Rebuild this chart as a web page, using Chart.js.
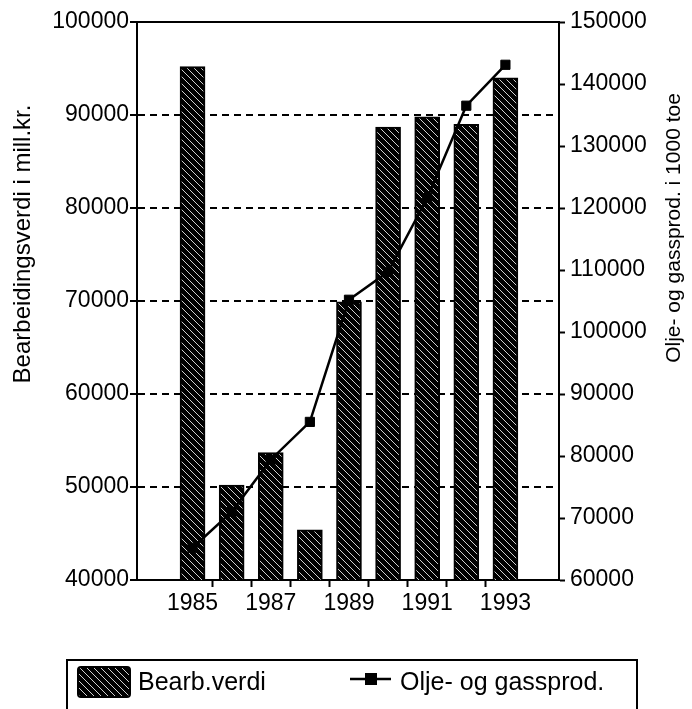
<!DOCTYPE html>
<html>
<head>
<meta charset="utf-8">
<script src="https://cdn.jsdelivr.net/npm/chart.js@4.4.1/dist/chart.umd.min.js"></script>
<style>
  html, body { margin: 0; padding: 0; background: #fff; }
  #wrap { width: 692px; height: 709px; position: relative; }
</style>
</head>
<body>
<div id="wrap"><canvas id="c" width="692" height="709"></canvas></div>
<script>
// ---- data ----
const years = [1985, 1986, 1987, 1988, 1989, 1990, 1991, 1992, 1993];
const bearbVerdi = [95200, 50200, 53700, 45400, 69900, 88700, 89800, 89000, 94000];
const oljeGassProd = [65200, 71000, 79400, 85500, 105200, 109700, 121600, 136500, 143100];
const xTickLabels = ['1985', '1987', '1989', '1991', '1993'];
const seriesNames = ['Bearb.verdi', 'Olje- og gassprod.'];
const leftTitle = 'Bearbeidingsverdi i mill.kr.';
const rightTitle = 'Olje- og gassprod. i 1000 toe';

const FONT = '"Liberation Sans", Arial, Helvetica, sans-serif';

function makeHatch() {
  const p = document.createElement('canvas');
  const n = 7;
  p.width = n; p.height = n;
  const g = p.getContext('2d');
  g.fillStyle = '#000';
  g.fillRect(0, 0, n, n);
  g.fillStyle = '#cfcfcf';
  for (let i = 0; i < n; i++) g.fillRect(i, i, 1, 1);
  return g.createPattern(p, 'repeat');
}
const ctx = document.getElementById('c').getContext('2d');
const hatch = makeHatch();

const barData = years.map((y, i) => ({ x: y, y: bearbVerdi[i] }));
const lineData = years.map((y, i) => ({ x: y, y: oljeGassProd[i] }));

// half-year positions for x tick marks, odd years for labels
const tickMarkVals = years.slice(0, -1).map(y => y + 0.5);
const labelVals = xTickLabels.map(Number);

const decor = {
  id: 'decor',
  afterDraw(chart) {
    const c = chart.ctx;
    const a = chart.chartArea;
    c.save();
    // top frame line
    c.strokeStyle = '#000';
    c.lineWidth = 2;
    c.beginPath();
    c.moveTo(a.left, a.top);
    c.lineTo(a.right, a.top);
    c.stroke();
    // axis titles
    c.fillStyle = '#000';
    c.textAlign = 'center';
    c.textBaseline = 'middle';
    c.save();
    c.translate(23, 244);
    c.rotate(-Math.PI / 2);
    c.font = '24px ' + FONT;
    c.fillText(leftTitle, 0, 0);
    c.restore();
    c.save();
    c.translate(674, 228);
    c.rotate(-Math.PI / 2);
    c.font = '21px ' + FONT;
    c.fillText(rightTitle, 0, 0);
    c.restore();
    // legend frame
    const lx = 67, ly = 660, lw = 570;
    c.lineWidth = 2;
    c.beginPath();
    c.moveTo(lx, chart.height + 5);
    c.lineTo(lx, ly);
    c.lineTo(lx + lw, ly);
    c.lineTo(lx + lw, chart.height + 5);
    c.stroke();
    // legend item 1
    c.fillStyle = hatch;
    c.beginPath();
    c.roundRect(78, 667, 52, 30, 3);
    c.fill();
    c.strokeStyle = '#000';
    c.lineWidth = 2;
    c.stroke();
    c.fillStyle = '#000';
    c.font = '25px ' + FONT;
    c.textAlign = 'left';
    c.textBaseline = 'alphabetic';
    c.fillText(seriesNames[0], 138, 690);
    // legend item 2
    c.lineWidth = 2.5;
    c.beginPath();
    c.moveTo(350, 679);
    c.lineTo(391, 679);
    c.stroke();
    c.fillRect(365, 673, 12, 12);
    c.fillText(seriesNames[1], 400, 690);
    c.restore();
  }
};

new Chart(ctx, {
  data: {
    datasets: [
      {
        type: 'line',
        label: seriesNames[1],
        data: lineData,
        yAxisID: 'y2',
        xAxisID: 'x',
        borderColor: '#000',
        backgroundColor: '#000',
        borderWidth: 2.5,
        pointStyle: 'rect',
        pointRadius: 6.5,
        pointBorderWidth: 1,
        pointBackgroundColor: '#000',
        pointBorderColor: '#000',
        tension: 0,
        order: 0
      },
      {
        type: 'bar',
        label: seriesNames[0],
        data: barData,
        yAxisID: 'y',
        xAxisID: 'x',
        backgroundColor: hatch,
        borderColor: '#000',
        borderWidth: 2,
        barThickness: 25,
        order: 1
      }
    ]
  },
  options: {
    responsive: false,
    animation: false,
    devicePixelRatio: 1,
    layout: { padding: { top: 22, bottom: 0, left: 0, right: 0 } },
    plugins: { legend: { display: false }, tooltip: { enabled: false } },
    scales: {
      x: {
        type: 'linear',
        position: 'bottom',
        min: 1983.58,
        max: 1994.37,
        offset: false,
        afterBuildTicks(scale) {
          scale.ticks = tickMarkVals.concat(labelVals).sort((a, b) => a - b).map(v => ({ value: v }));
        },
        afterFit(scale) { scale.height = 129; },
        grid: {
          display: true,
          drawOnChartArea: false,
          drawTicks: true,
          tickLength: 7,
          tickWidth: 2,
          offset: false,
          color: '#000',
          tickColor: (c) => (c.tick && Number.isInteger(c.tick.value)) ? 'rgba(0,0,0,0)' : '#000'
        },
        border: { display: true, color: '#000', width: 2 },
        ticks: {
          autoSkip: false,
          maxRotation: 0,
          padding: 3,
          color: '#000',
          font: { family: FONT, size: 23 },
          callback: (v) => xTickLabels.includes(String(v)) ? String(v) : ''
        }
      },
      y: {
        type: 'linear',
        position: 'left',
        min: 40000,
        max: 100000,
        afterFit(scale) { scale.width = 137; },
        ticks: {
          stepSize: 10000,
          padding: 1,
          color: '#000',
          font: { family: FONT, size: 23 },
          callback: (v) => String(v)
        },
        grid: {
          display: true,
          drawOnChartArea: true,
          drawTicks: true,
          tickLength: 7,
          lineWidth: 2,
          tickWidth: 2,
          tickColor: '#000',
          color: (c) => (c.tick && (c.tick.value === 40000 || c.tick.value === 100000)) ? 'rgba(0,0,0,0)' : '#000'
        },
        border: { display: true, color: '#000', width: 2, dash: [7, 5] }
      },
      y2: {
        type: 'linear',
        position: 'right',
        min: 60000,
        max: 150000,
        afterFit(scale) { scale.width = 133; },
        ticks: {
          stepSize: 10000,
          padding: 5,
          color: '#000',
          font: { family: FONT, size: 23 },
          callback: (v) => String(v)
        },
        grid: {
          display: true,
          drawOnChartArea: false,
          drawTicks: true,
          tickLength: 6,
          tickWidth: 2,
          tickColor: '#000',
          color: '#000'
        },
        border: { display: true, color: '#000', width: 2 }
      }
    }
  },
  plugins: [decor]
});
</script>
</body>
</html>
